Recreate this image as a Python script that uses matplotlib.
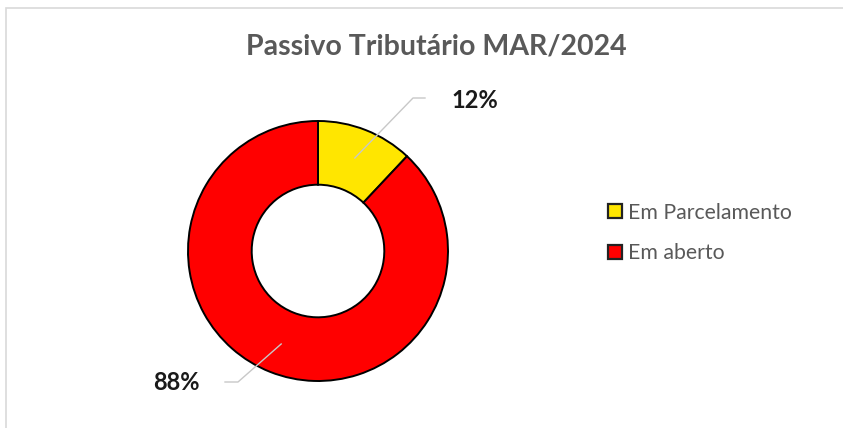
import numpy as np
import matplotlib
matplotlib.use("Agg")
import matplotlib.pyplot as plt
from matplotlib.patches import Rectangle
from matplotlib.lines import Line2D

# data
labels = ["Em Parcelamento", "Em aberto"]
shares = [12, 88]
colors = ["#FFE600", "#FF0000"]
title = "Passivo Tributário MAR/2024"

plt.rcParams['font.family'] = ['Lato', 'DejaVu Sans']

W, H = 843, 428
fig = plt.figure(figsize=(W / 100, H / 100), dpi=100)
ax = fig.add_axes([0, 0, 1, 1])

# chart area border (light grey, cut off at right/bottom)
fig.patches.append(Rectangle((6 / W, -0.1), 1.1, (H - 8) / H + 0.1,
                             transform=fig.transFigure, fill=False,
                             edgecolor="#D9D9D9", linewidth=1.2))

cx, cy, r = 318, H - 251, 130
wedges, _ = ax.pie(shares, colors=colors, startangle=90, counterclock=False,
                   center=(cx, cy), radius=r, frame=True,
                   wedgeprops=dict(width=r * 0.49, edgecolor="black", linewidth=1.4))

ax.set_xlim(0, W)
ax.set_ylim(0, H)
ax.set_aspect("equal")
ax.axis("off")

# data labels with leader lines
label_pos = [(475, H - 100), (176, H - 383)]
elbows = [(413, H - 98), (238, H - 382)]
ends = [(425, H - 98), (225, H - 382)]
for w, val, tp, el, en in zip(wedges, shares, label_pos, elbows, ends):
    mid = np.deg2rad((w.theta1 + w.theta2) / 2)
    sx, sy = cx + 100 * np.cos(mid), cy + 100 * np.sin(mid)
    ax.plot([sx, el[0], en[0]], [sy, el[1], en[1]], color="#C8C8C8", lw=1.0)
    ax.text(tp[0], tp[1], f"{val}%", ha="center", va="center",
            fontsize=17, fontweight="bold", color="#1a1a1a")

ax.text(436, H - 46, title, ha="center", va="center", fontsize=20.5,
        fontweight="bold", color="#595959")

handles = [Line2D([], [], marker="s", linestyle="none", markersize=10.5,
                  markerfacecolor=c, markeredgecolor="#222222", markeredgewidth=1.6)
           for c in colors]
fig.legend(handles, labels, loc="center left", bbox_to_anchor=(592 / W, 1 - 233 / H),
           frameon=False, fontsize=15.3, labelcolor="#595959", handletextpad=0.0,
           labelspacing=0.95, handlelength=1.2, borderpad=0)

fig.savefig("out.png", dpi=100)
